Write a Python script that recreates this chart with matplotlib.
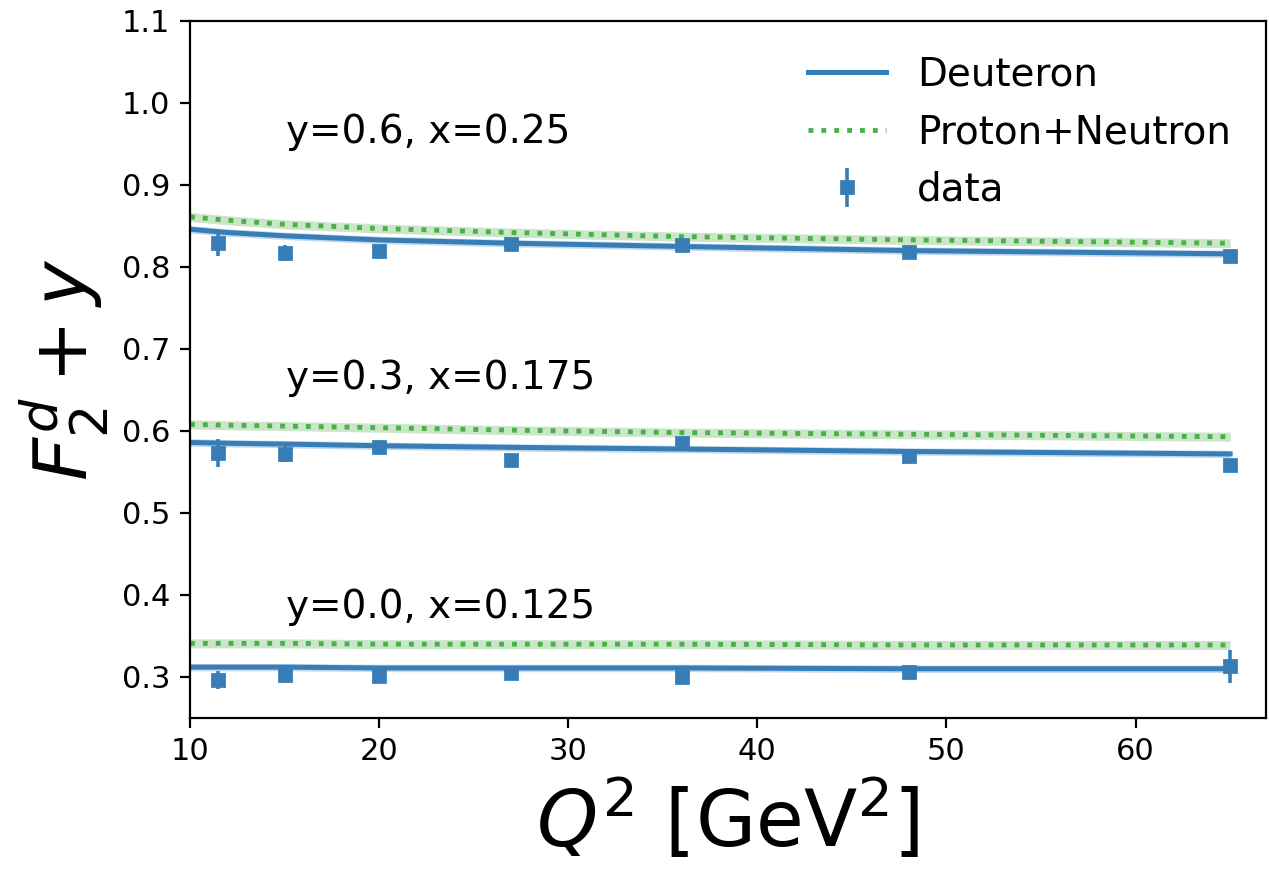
import matplotlib
matplotlib.use('Agg')
import matplotlib.pyplot as plt
import numpy as np

# Q^2 grid for theory curves
q2_curve = [10, 12, 15, 20, 27, 36, 48, 65]

# shifted F2 (F2 + y) for each panel
deut_06 = [0.846, 0.842, 0.838, 0.833, 0.829, 0.825, 0.820, 0.816]
pn_06 = [0.861, 0.857, 0.852, 0.847, 0.842, 0.837, 0.833, 0.829]
deut_03 = [0.586, 0.585, 0.584, 0.582, 0.580, 0.578, 0.575, 0.572]
pn_03 = [0.608, 0.607, 0.606, 0.604, 0.601, 0.598, 0.596, 0.593]
deut_00 = [0.312, 0.312, 0.312, 0.311, 0.311, 0.311, 0.310, 0.310]
pn_00 = [0.341, 0.341, 0.341, 0.340, 0.340, 0.340, 0.339, 0.339]
band_deut = 0.0045
band_pn = 0.0055

# data points
q2_data = [11.5, 15, 20, 27, 36, 48, 65]
data_06 = [0.829, 0.817, 0.819, 0.828, 0.827, 0.818, 0.814]
err_06 = [0.015, 0.010, 0.006, 0.004, 0.005, 0.004, 0.005]
data_03 = [0.573, 0.572, 0.581, 0.565, 0.585, 0.569, 0.559]
err_03 = [0.017, 0.010, 0.005, 0.004, 0.005, 0.004, 0.005]
data_00 = [0.296, 0.302, 0.301, 0.305, 0.300, 0.306, 0.313]
err_00 = [0.011, 0.005, 0.004, 0.004, 0.004, 0.004, 0.020]

labels = ['y=0.6, x=0.25', 'y=0.3, x=0.175', 'y=0.0, x=0.125']
label_y = [0.965, 0.665, 0.385]

blue = '#377eb8'
green = '#4daf4a'

fig = plt.figure(figsize=(6.35, 4.355), dpi=200)
ax = fig.add_axes([0.1496, 0.1757, 0.8473, 0.8002])

groups = [(deut_06, pn_06, data_06, err_06),
          (deut_03, pn_03, data_03, err_03),
          (deut_00, pn_00, data_00, err_00)]

for i, (d, p, dat, e) in enumerate(groups):
    d = np.array(d)
    p = np.array(p)
    ax.fill_between(q2_curve, p - band_pn, p + band_pn, color=green, alpha=0.3, lw=0)
    ax.fill_between(q2_curve, d - band_deut, d + band_deut, color=blue, alpha=0.3, lw=0)
    ax.plot(q2_curve, d, color=blue, lw=1.8, label='Deuteron' if i == 0 else None)
    ax.plot(q2_curve, p, color=green, lw=1.75, ls=':', label='Proton+Neutron' if i == 0 else None)
    ax.errorbar(q2_data, dat, yerr=e, fmt='s', color=blue, ms=4.5, elinewidth=1.3,
                capsize=0, label='data' if i == 0 else None)
    ax.text(15.1, label_y[i], labels[i], fontsize=14, va='center', ha='left')

ax.set_xlim(10, 66.9)
ax.set_ylim(0.25, 1.1)
ax.set_xticks([10, 20, 30, 40, 50, 60])
ax.set_yticks([0.3, 0.4, 0.5, 0.6, 0.7, 0.8, 0.9, 1.0, 1.1])
ax.tick_params(labelsize=11)
ax.set_xlabel(r'$Q^2\ [\mathrm{GeV}^2]$', fontsize=28)
ax.set_ylabel(r'$F_2^d + y$', fontsize=27)
ax.legend(loc='upper right', frameon=False, fontsize=14)

fig.savefig('out.png', dpi=200)
